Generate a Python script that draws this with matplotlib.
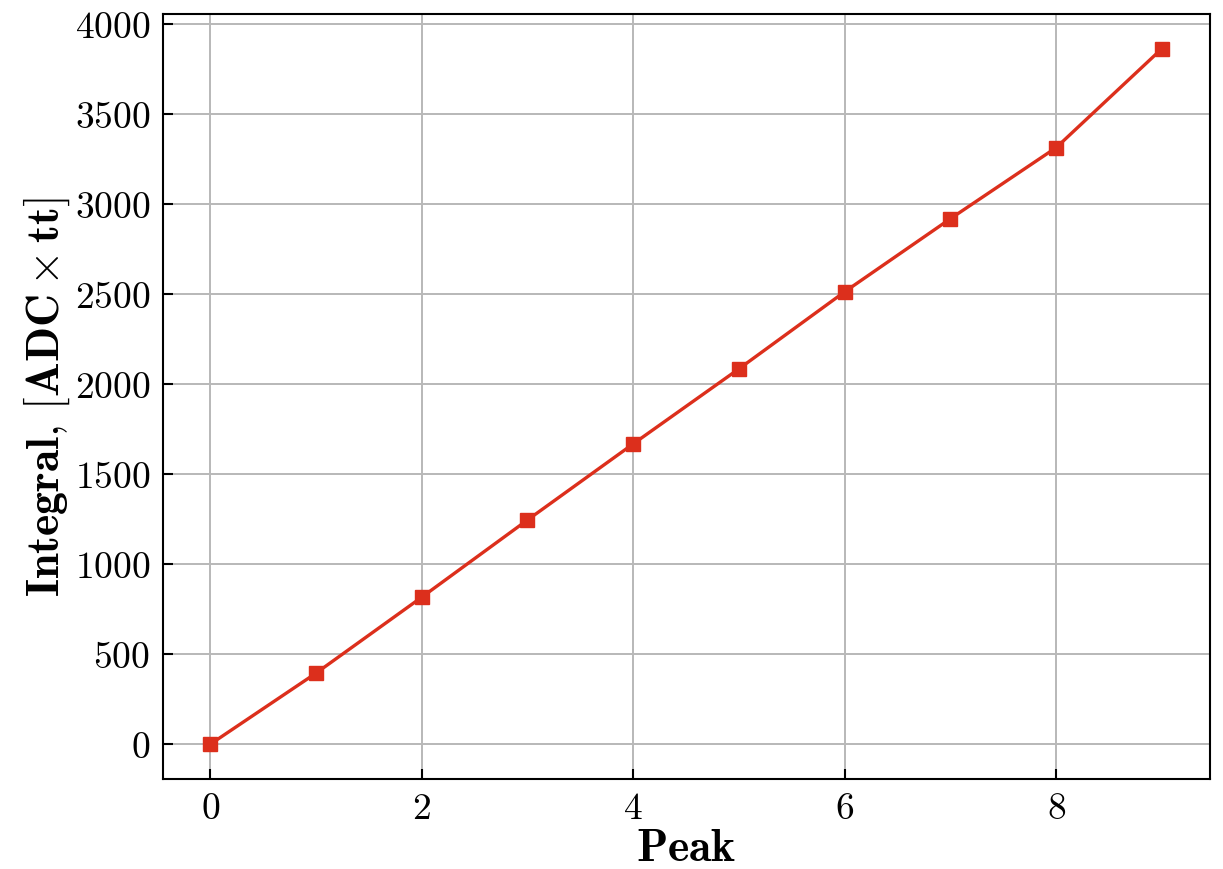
import numpy as np
import matplotlib
matplotlib.use('Agg')
import matplotlib.pyplot as plt

plt.rcParams['font.family'] = 'serif'
plt.rcParams['font.serif'] = ['cmr10']
plt.rcParams['mathtext.fontset'] = 'cm'
plt.rcParams['axes.formatter.use_mathtext'] = True

# integral of each peak
peak = np.arange(0, 10)
integral = [0, 395, 817, 1246, 1669, 2086, 2514, 2920, 3315, 3865]

fig = plt.figure(figsize=(12.23, 8.70), dpi=100)
ax = fig.add_axes([0.133, 0.1034, 0.856, 0.8796])

ax.plot(peak, integral, color='#dc2f1c', linewidth=2.4,
        marker='s', markersize=10.5, zorder=3)

ax.grid(True, color='#b8b8b8', linewidth=1.4)
ax.set_axisbelow(True)

ax.tick_params(direction='in', length=7, width=1.5, labelsize=27, pad=9)
for s in ax.spines.values():
    s.set_linewidth(1.5)

ax.set_xlabel(r'$\mathbf{Peak}$', fontsize=33, labelpad=2)
ax.set_ylabel(r'$\mathbf{Integral,}\,\mathbf{[ADC}\times\mathbf{tt]}$',
              fontsize=33, labelpad=2)

fig.savefig('out.png', dpi=100)
